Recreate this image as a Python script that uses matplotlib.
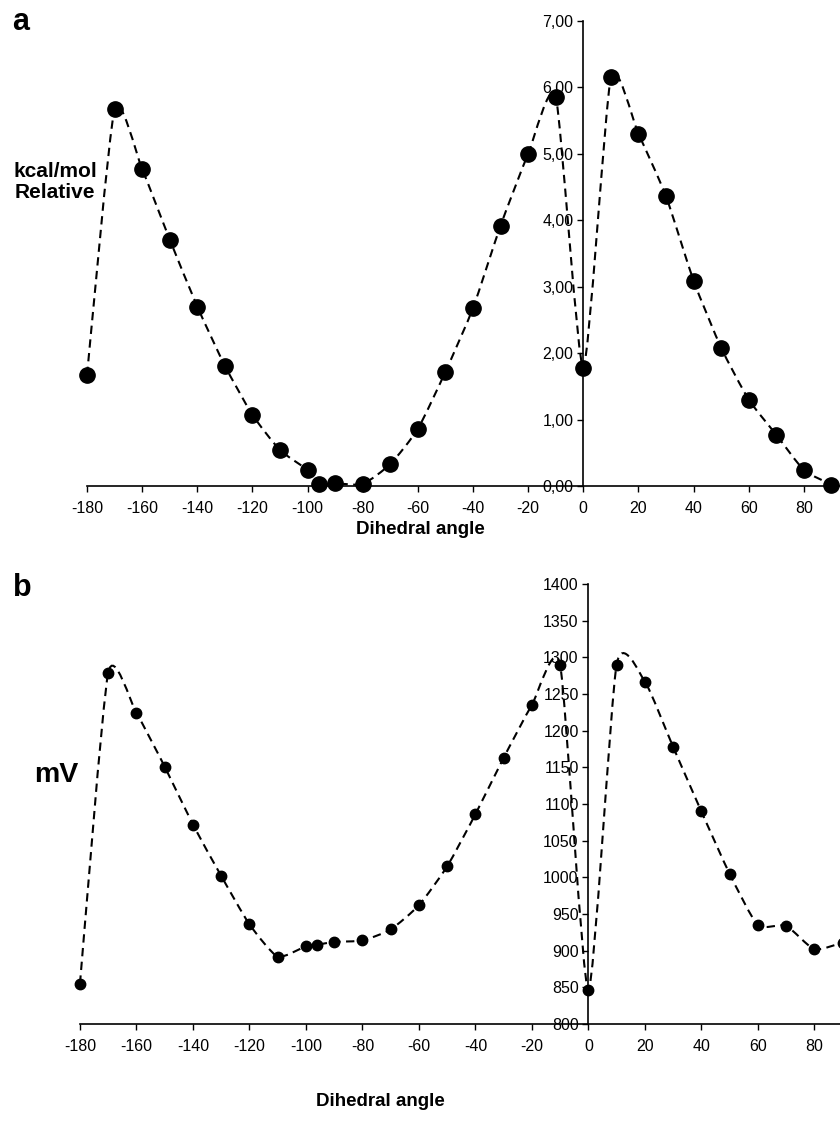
import numpy as np
import matplotlib
matplotlib.use("Agg")
from matplotlib import pyplot as plt
from matplotlib.path import Path
from matplotlib.patches import PathPatch
from matplotlib.ticker import FuncFormatter

plt.rcParams['font.family'] = ['Liberation Sans', 'DejaVu Sans']
plt.rcParams['axes.unicode_minus'] = False

# dihedral scan, panel a (relative energy) and panel b (potential)
angle = [-180, -170, -160, -150, -140, -130, -120, -110, -100, -96, -90, -80,
         -70, -60, -50, -40, -30, -20, -10, 0, 10, 20, 30, 40, 50, 60, 70, 80, 90]
energy = [1.67, 5.67, 4.77, 3.71, 2.70, 1.81, 1.07, 0.54, 0.24, 0.03, 0.04, 0.03,
          0.33, 0.86, 1.72, 2.68, 3.92, 5.00, 5.86, 1.78, 6.15, 5.30, 4.36, 3.09,
          2.08, 1.30, 0.77, 0.24, 0.02]
mv = [855, 1279, 1224, 1151, 1072, 1002, 936, 892, 906, 908, 912, 914,
      929, 962, 1015, 1086, 1163, 1235, 1290, 846, 1290, 1267, 1178, 1090,
      1005, 935, 934, 902, 911]
xticks = list(range(-180, 81, 20))


def smooth_path(x, y, k=10.0):
    # bezier through the points, like a spreadsheet "smoothed line"
    p = np.column_stack([x, y]).astype(float)
    verts = [p[0]]
    codes = [Path.MOVETO]
    n = len(p)
    for i in range(n - 1):
        p0 = p[i - 1] if i > 0 else p[i]
        p3 = p[i + 2] if i + 2 < n else p[i + 1]
        c1 = p[i] + (p[i + 1] - p0) / k
        c2 = p[i + 1] - (p3 - p[i]) / k
        verts += [c1, c2, p[i + 1]]
        codes += [Path.CURVE4] * 3
    return Path(verts, codes)


def setup(ax, ylim, yticks, fmt, xright):
    ax.set_xlim(-180, xright)
    ax.set_ylim(*ylim)
    for s in ['top', 'right']:
        ax.spines[s].set_visible(False)
    ax.spines['left'].set_position(('data', 0))
    ax.spines['left'].set_linewidth(1.2)
    ax.spines['bottom'].set_linewidth(1.2)
    ax.set_xticks(xticks)
    ax.set_yticks(yticks)
    ax.yaxis.set_major_formatter(FuncFormatter(fmt))
    ax.tick_params(direction='out', length=4, width=1.0, labelsize=11.5)
    ax.tick_params(axis='x', pad=7)
    ax.tick_params(axis='y', pad=3)
    ax.patch.set_visible(False)


fig = plt.figure(figsize=(8.4, 11.21), dpi=100)

ax1 = fig.add_axes([0.1036, 0.5665, 0.8964, 0.4148])
setup(ax1, (0, 7), np.arange(0, 7.01, 1),
      lambda v, pos: ("%.2f" % v).replace('.', ','), 93.1)
ax1.add_patch(PathPatch(smooth_path(angle, energy), fill=False, color='black',
                        lw=1.5, linestyle=(0, (4, 2.6)), clip_on=False))
ax1.plot(angle, energy, 'o', color='black', ms=11, clip_on=False, zorder=5)

ax2 = fig.add_axes([0.0952, 0.0865, 0.9048, 0.3925])
setup(ax2, (800, 1400), np.arange(800, 1401, 50),
      lambda v, pos: "%d" % v, 89.1)
ax2.add_patch(PathPatch(smooth_path(angle, mv), fill=False, color='black',
                        lw=1.5, linestyle=(0, (4, 2.6)), clip_on=False))
ax2.plot(angle, mv, 'o', color='black', ms=7.5, clip_on=False, zorder=5)

fig.text(12 / 840, 1 - 22 / 1121, 'a', fontsize=22, fontweight='bold', va='center')
fig.text(13 / 840, 1 - 588 / 1121, 'b', fontsize=22, fontweight='bold', va='center')
fig.text(55 / 840, 1 - 182 / 1121, 'kcal/mol\nRelative', fontsize=15,
         fontweight='bold', ha='center', va='center', multialignment='center',
         linespacing=1.15)
fig.text(34 / 840, 1 - 775 / 1121, 'mV', fontsize=20.5, fontweight='bold', va='center')
fig.text(420 / 840, 1 - 529 / 1121, 'Dihedral angle', fontsize=13.5,
         fontweight='bold', ha='center', va='center')
fig.text(380 / 840, 1 - 1101 / 1121, 'Dihedral angle', fontsize=13.5,
         fontweight='bold', ha='center', va='center')

plt.savefig('out.png', dpi=100)
